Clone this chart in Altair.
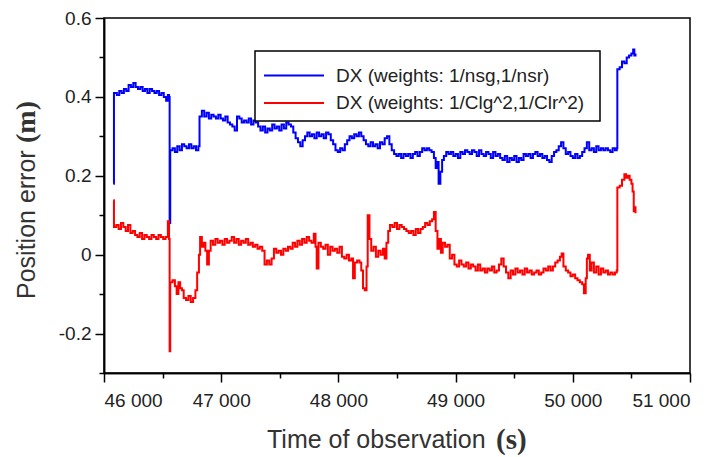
import altair as alt
import pandas as pd

# ---- data ----
blue_label = "DX (weights: 1/nsg,1/nsr)"
red_label = "DX (weights: 1/Clg^2,1/Clr^2)"

blue_t = [46080, 46085, 46110, 46130, 46150, 46170, 46190, 46210, 46230, 46250, 46270, 46290, 46310, 46330, 46350,
          46370, 46390, 46410, 46430, 46450, 46470, 46490, 46510, 46530, 46545, 46555, 46560, 46565, 46585, 46605,
          46625, 46645, 46665, 46685, 46705, 46725, 46745, 46765, 46785, 46805, 46815, 46835, 46855, 46875, 46895,
          46915, 46935, 46955, 46975, 46995, 47015, 47035, 47055, 47075, 47095, 47115, 47135, 47155, 47175, 47195,
          47215, 47235, 47255, 47275, 47295, 47315, 47335, 47355, 47375, 47395, 47415, 47435, 47455, 47475, 47495,
          47515, 47535, 47555, 47575, 47595, 47615, 47635, 47655, 47675, 47695, 47715, 47735, 47755, 47775, 47795,
          47815, 47835, 47855, 47875, 47895, 47915, 47935, 47955, 47975, 47995, 48015, 48035, 48055, 48075, 48095,
          48115, 48135, 48155, 48175, 48195, 48215, 48235, 48255, 48275, 48295, 48315, 48335, 48355, 48375, 48395,
          48415, 48435, 48455, 48475, 48495, 48515, 48535, 48555, 48575, 48595, 48615, 48635, 48655, 48675, 48695,
          48715, 48735, 48755, 48775, 48795, 48815, 48830, 48845, 48855, 48870, 48885, 48900, 48920, 48940, 48960,
          48980, 49000, 49020, 49040, 49060, 49080, 49100, 49120, 49140, 49160, 49180, 49200, 49220, 49240, 49260,
          49280, 49300, 49320, 49340, 49360, 49380, 49400, 49420, 49440, 49460, 49480, 49500, 49520, 49540, 49560,
          49580, 49600, 49620, 49640, 49660, 49680, 49700, 49720, 49740, 49760, 49780, 49800, 49820, 49840, 49860,
          49880, 49900, 49920, 49940, 49960, 49980, 50000, 50020, 50040, 50060, 50080, 50100, 50120, 50140, 50160,
          50180, 50200, 50220, 50240, 50260, 50280, 50300, 50320, 50340, 50360, 50375, 50380, 50400, 50420, 50440,
          50460, 50480, 50500, 50515, 50525, 50535]
blue_v = [0.18, 0.41, 0.405, 0.415, 0.41, 0.42, 0.415, 0.43, 0.425, 0.435, 0.425, 0.42, 0.425, 0.415, 0.42,
          0.41, 0.42, 0.415, 0.41, 0.415, 0.405, 0.41, 0.40, 0.39, 0.405, 0.40, 0.08, 0.265, 0.27, 0.26,
          0.275, 0.265, 0.28, 0.275, 0.27, 0.28, 0.27, 0.275, 0.265, 0.275, 0.35, 0.365, 0.35, 0.36, 0.345,
          0.355, 0.35, 0.345, 0.355, 0.345, 0.34, 0.35, 0.335, 0.33, 0.325, 0.315, 0.35, 0.345, 0.335, 0.34,
          0.335, 0.345, 0.33, 0.34, 0.335, 0.325, 0.315, 0.325, 0.31, 0.32, 0.315, 0.33, 0.32, 0.325, 0.315,
          0.33, 0.32, 0.335, 0.33, 0.325, 0.31, 0.295, 0.285, 0.275, 0.29, 0.30, 0.31, 0.30, 0.305, 0.295,
          0.31, 0.30, 0.305, 0.295, 0.31, 0.305, 0.29, 0.28, 0.265, 0.26, 0.27, 0.265, 0.28, 0.29, 0.30,
          0.295, 0.305, 0.30, 0.31, 0.30, 0.29, 0.28, 0.275, 0.285, 0.275, 0.28, 0.27, 0.285, 0.28, 0.295,
          0.30, 0.28, 0.265, 0.255, 0.25, 0.255, 0.245, 0.255, 0.25, 0.255, 0.245, 0.255, 0.26, 0.25, 0.26,
          0.27, 0.265, 0.27, 0.265, 0.26, 0.245, 0.22, 0.235, 0.18, 0.21, 0.24, 0.25, 0.26, 0.255, 0.26,
          0.25, 0.255, 0.245, 0.26, 0.255, 0.265, 0.26, 0.255, 0.265, 0.26, 0.25, 0.265, 0.255, 0.25, 0.26,
          0.255, 0.245, 0.26, 0.25, 0.255, 0.245, 0.24, 0.25, 0.235, 0.245, 0.24, 0.25, 0.235, 0.245, 0.24,
          0.255, 0.25, 0.255, 0.245, 0.255, 0.26, 0.25, 0.255, 0.245, 0.25, 0.24, 0.235, 0.25, 0.26, 0.265,
          0.275, 0.285, 0.27, 0.255, 0.26, 0.25, 0.245, 0.255, 0.245, 0.25, 0.26, 0.27, 0.285, 0.265, 0.27,
          0.26, 0.275, 0.265, 0.27, 0.265, 0.27, 0.265, 0.26, 0.27, 0.265, 0.27, 0.47, 0.475, 0.49, 0.485,
          0.50, 0.505, 0.51, 0.52, 0.505, 0.51]

red_t = [46080, 46085, 46105, 46125, 46145, 46165, 46185, 46205, 46225, 46245, 46265, 46285, 46305, 46325, 46345,
         46365, 46385, 46405, 46425, 46445, 46465, 46485, 46505, 46525, 46545, 46555, 46560, 46565, 46585, 46605,
         46620, 46635, 46650, 46665, 46680, 46700, 46720, 46740, 46760, 46780, 46795, 46810, 46820, 46835, 46850,
         46865, 46880, 46895, 46910, 46930, 46950, 46970, 46990, 47010, 47030, 47050, 47070, 47090, 47110, 47130,
         47150, 47170, 47190, 47210, 47230, 47250, 47270, 47290, 47310, 47330, 47350, 47370, 47390, 47410, 47430,
         47450, 47470, 47490, 47510, 47530, 47550, 47570, 47590, 47610, 47630, 47650, 47670, 47690, 47710, 47730,
         47750, 47770, 47790, 47805, 47815, 47830, 47850, 47870, 47890, 47910, 47930, 47950, 47970, 47990, 48010,
         48030, 48050, 48070, 48090, 48110, 48125, 48140, 48160, 48180, 48195, 48210, 48225, 48240, 48250, 48265,
         48280, 48300, 48320, 48340, 48360, 48380, 48395, 48410, 48425, 48440, 48460, 48480, 48500, 48520, 48540,
         48560, 48580, 48600, 48620, 48640, 48660, 48680, 48700, 48720, 48740, 48760, 48780, 48800, 48815, 48830,
         48845, 48860, 48875, 48890, 48910, 48930, 48950, 48970, 48990, 49010, 49030, 49050, 49070, 49090, 49110,
         49130, 49150, 49170, 49190, 49210, 49230, 49250, 49270, 49290, 49310, 49330, 49350, 49370, 49390, 49410,
         49430, 49450, 49470, 49490, 49510, 49530, 49550, 49570, 49590, 49610, 49630, 49650, 49670, 49690, 49710,
         49730, 49750, 49770, 49790, 49810, 49830, 49850, 49870, 49890, 49905, 49920, 49940, 49960, 49980, 50000,
         50020, 50040, 50060, 50080, 50095, 50110, 50120, 50130, 50145, 50160, 50180, 50200, 50220, 50240, 50260,
         50280, 50300, 50320, 50340, 50360, 50375, 50380, 50400, 50420, 50440, 50455, 50470, 50485, 50500, 50510,
         50520, 50530, 50535]
red_v = [0.138, 0.07, 0.075, 0.065, 0.08, 0.07, 0.06, 0.075, 0.055, 0.06, 0.05, 0.045, 0.055, 0.04, 0.05,
         0.045, 0.04, 0.05, 0.045, 0.04, 0.05, 0.045, 0.04, 0.045, 0.085, 0.04, -0.245, -0.07, -0.065, -0.08,
         -0.10, -0.07, -0.085, -0.09, -0.11, -0.115, -0.105, -0.12, -0.11, -0.09, -0.045, 0.0, 0.045, 0.02, 0.03,
         0.01, -0.025, 0.01, 0.035, 0.025, 0.04, 0.03, 0.035, 0.025, 0.04, 0.03, 0.035, 0.045, 0.03, 0.04,
         0.025, 0.035, 0.03, 0.04, 0.025, 0.03, 0.02, 0.025, 0.015, 0.02, 0.01, -0.025, -0.015, -0.025, -0.01,
         0.015, 0.005, 0.01, 0.0, 0.015, 0.01, 0.02, 0.015, 0.03, 0.02, 0.035, 0.025, 0.04, 0.03, 0.045,
         0.035, 0.03, 0.053, 0.02, -0.035, 0.03, 0.02, 0.015, 0.025, 0.0, 0.02, 0.01, 0.015, 0.005, 0.02,
         -0.005, -0.01, 0.0, -0.015, -0.01, -0.06, -0.02, -0.015, -0.02, -0.04, -0.085, -0.09, -0.03, 0.10, 0.04,
         0.01, 0.02, -0.005, 0.01, 0.0, 0.015, -0.01, 0.03, 0.06, 0.075, 0.07, 0.08, 0.065, 0.075, 0.07,
         0.065, 0.06, 0.055, 0.06, 0.05, 0.065, 0.055, 0.065, 0.07, 0.08, 0.075, 0.085, 0.09, 0.108, 0.06,
         0.015, 0.04, 0.005, 0.03, 0.02, 0.025, -0.01, 0.0, -0.025, -0.03, -0.015, -0.025, -0.03, -0.02, -0.035,
         -0.025, -0.03, -0.04, -0.025, -0.04, -0.035, -0.045, -0.035, -0.04, -0.03, -0.045, -0.04, -0.025, -0.01, -0.03,
         -0.045, -0.06, -0.04, -0.05, -0.035, -0.045, -0.04, -0.05, -0.035, -0.045, -0.04, -0.05, -0.045, -0.04, -0.05,
         -0.045, -0.035, -0.04, -0.03, -0.04, -0.03, -0.02, -0.015, -0.005, 0.003, -0.03, -0.04, -0.045, -0.055, -0.05,
         -0.06, -0.065, -0.07, -0.075, -0.098, -0.06, -0.01, 0.0, -0.04, -0.02, -0.045, -0.03, -0.05, -0.035, -0.045,
         -0.04, -0.05, -0.045, -0.05, -0.045, -0.04, 0.17, 0.175, 0.19, 0.204, 0.195, 0.2, 0.19, 0.18, 0.16,
         0.11, 0.12, 0.105]

x_major = [46000, 47000, 48000, 49000, 50000, 51000]
x_minor = [46500, 47500, 48500, 49500, 50500]
y_major = [-0.2, 0.0, 0.2, 0.4, 0.6]
y_minor = [-0.3, -0.1, 0.1, 0.3, 0.5]

df = pd.concat([
    pd.DataFrame({"t": blue_t, "v": blue_v, "series": blue_label, "order": 0}),
    pd.DataFrame({"t": red_t, "v": red_v, "series": red_label, "order": 1}),
], ignore_index=True)

FONT = "Liberation Sans"
SERIF = "Liberation Serif"
BLUE = "#0000ff"
RED = "#ff0000"
xs = alt.Scale(domain=[46000, 51000], nice=False, zero=False)
ys = alt.Scale(domain=[-0.3, 0.6], nice=False, zero=False)

x_major_axis = alt.Axis(values=x_major, orient="bottom", tickSize=9, labelFontSize=19, labelFont=FONT,
                        labelColor="#222", labelPadding=9, grid=False, title=None,
                        labelExpr="replace(format(datum.value, ','), ',', ' ')")
y_major_axis = alt.Axis(values=y_major, orient="left", tickSize=9, labelFontSize=19, labelFont=FONT,
                        labelColor="#222", labelPadding=4, grid=False, title=None,
                        labelExpr="datum.value == 0 ? '0' : replace(format(datum.value, '.1f'), '\u2212', '-')")
x_minor_axis = alt.Axis(values=x_minor, orient="bottom", tickSize=5, labels=False, grid=False, title=None)
y_minor_axis = alt.Axis(values=y_minor, orient="left", tickSize=5, labels=False, grid=False, title=None)

lines = alt.Chart(df).mark_line(interpolate="step-after", strokeWidth=2).encode(
    x=alt.X("t:Q", scale=xs, axis=x_major_axis),
    y=alt.Y("v:Q", scale=ys, axis=y_major_axis),
    color=alt.Color("series:N",
                    scale=alt.Scale(domain=[blue_label, red_label], range=[BLUE, RED]),
                    legend=None),
    order=alt.Order("order:Q"),
)

minor = alt.Chart(df).mark_point(opacity=0).encode(
    x=alt.X("t:Q", scale=xs, axis=x_minor_axis),
    y=alt.Y("v:Q", scale=ys, axis=y_minor_axis),
)

one = pd.DataFrame({"k": [0]})

# legend box (drawn by hand so the rows keep the reference spacing)
leg_frame = alt.Chart(one).mark_rect(fill="white", stroke="black", strokeWidth=1.5).encode(
    x=alt.value(151), x2=alt.value(496), y=alt.value(33), y2=alt.value(103))
leg_blue = alt.Chart(one).mark_rule(color=BLUE, strokeWidth=1.8).encode(
    x=alt.value(160), x2=alt.value(220), y=alt.value(57.5))
leg_red = alt.Chart(one).mark_rule(color=RED, strokeWidth=1.8).encode(
    x=alt.value(160), x2=alt.value(220), y=alt.value(85))
leg_t1 = alt.Chart(pd.DataFrame({"s": [blue_label]})).mark_text(
    align="left", baseline="middle", font=FONT, fontSize=19, color="#222").encode(
    x=alt.value(232), y=alt.value(57.5), text="s:N")
leg_t2 = alt.Chart(pd.DataFrame({"s": [red_label]})).mark_text(
    align="left", baseline="middle", font=FONT, fontSize=19, color="#222").encode(
    x=alt.value(232), y=alt.value(85), text="s:N")

ytitle1 = alt.Chart(pd.DataFrame({"s": ["Position error"]})).mark_text(
    angle=270, align="left", baseline="middle", font=FONT, fontSize=25, color="#333").encode(
    x=alt.value(-77), y=alt.value(281), text="s:N")
ytitle2 = alt.Chart(pd.DataFrame({"s": ["(m)"]})).mark_text(
    angle=270, align="left", baseline="middle", font=SERIF, fontWeight="bold",
    fontSize=28, color="#333").encode(
    x=alt.value(-77), y=alt.value(125), text="s:N")
xtitle1 = alt.Chart(pd.DataFrame({"s": ["Time of observation"]})).mark_text(
    align="left", baseline="alphabetic", font=FONT, fontSize=25, color="#333").encode(
    x=alt.value(163), y=alt.value(430), text="s:N")
xtitle2 = alt.Chart(pd.DataFrame({"s": ["(s)"]})).mark_text(
    align="left", baseline="alphabetic", font=SERIF, fontWeight="bold",
    fontSize=29, color="#333").encode(
    x=alt.value(392), y=alt.value(431), text="s:N")

chart = alt.layer(minor, lines, leg_frame, leg_blue, leg_red, leg_t1, leg_t2,
                  ytitle1, ytitle2, xtitle1, xtitle2).resolve_axis(
    x="independent", y="independent"
).properties(
    width=586, height=355,
    autosize=alt.AutoSizeParams(type="none"),
    padding={"left": 96, "top": 10, "right": 20, "bottom": 86},
).configure_view(stroke="black", strokeWidth=1.5).configure_axis(
    domainColor="black", domainWidth=1.5, tickColor="black", tickWidth=1.5
)

chart.save("out.html", embed_options={"renderer": "svg", "actions": False})
